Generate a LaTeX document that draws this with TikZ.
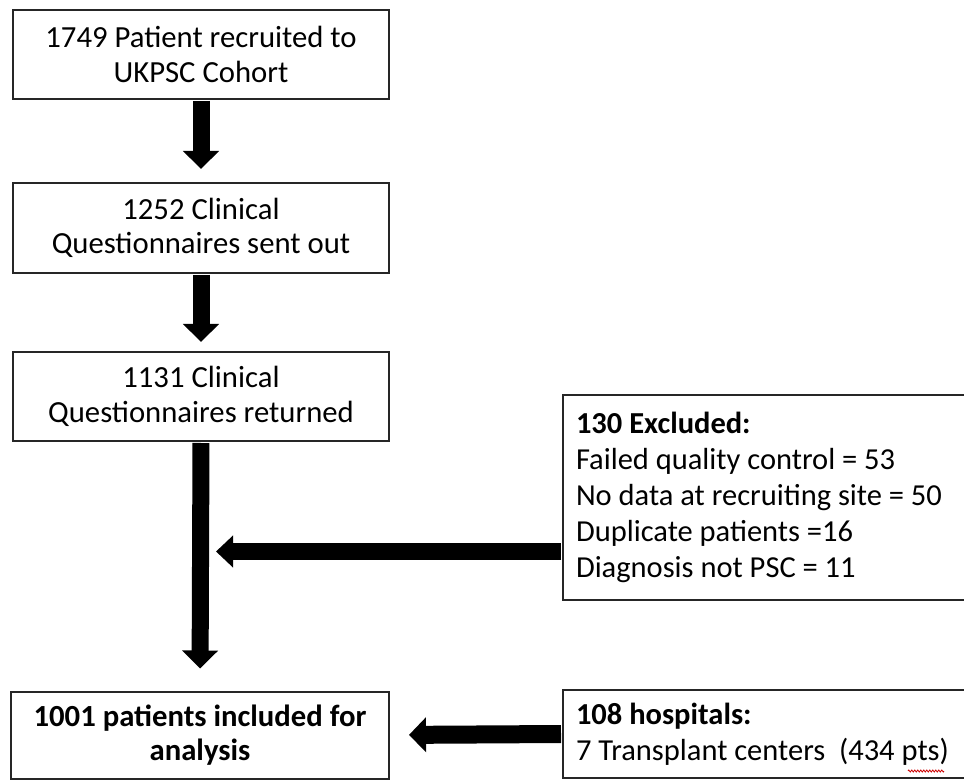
\documentclass[tikz,border=0pt]{standalone}
\usepackage{fontspec}
\setmainfont{Carlito}
\usetikzlibrary{arrows.meta,decorations.pathmorphing}
\begin{document}
\begin{tikzpicture}[x=1pt,y=1pt,
  flowbox/.style={draw=black!85, line width=2pt, fill=white, minimum width=376pt, minimum height=89pt, align=center, inner sep=0pt, font=\fontsize{30.7}{34.5}\selectfont},
  sidebox/.style={draw=black!85, line width=2pt, fill=white, anchor=west, minimum width=440pt, text width=414pt, align=flush left, inner sep=13pt, font=\fontsize{30.5}{36}\selectfont},
  bigarrow/.style={line width=17pt, -{Triangle[width=35pt,length=18pt]}},
  spell/.style={draw=red!80!black, line width=0.8pt, decoration={zigzag, amplitude=1pt, segment length=3pt}, decorate}
]
\useasboundingbox (0,0) rectangle (964,780);
\clip (0,0) rectangle (964,780);
\fill[white] (0,0) rectangle (964,780);

\node[flowbox] (b1) at (201,725.5) {1749 Patient recruited to\\UKPSC Cohort};
\node[flowbox, minimum height=90pt] (b2) at (201,552) {1252 Clinical\\Questionnaires sent out};
\node[flowbox] (b3) at (201,383.5) {1131 Clinical\\Questionnaires returned};
\node[flowbox, minimum width=378pt, minimum height=87pt] (b4) at (200,45) {\textbf{1001 patients included for}\\\textbf{analysis}};

\node[sidebox, minimum height=205pt] (ex) at (562,282.5) {\textbf{130 Excluded:}\\Failed quality control = 53\\No data at recruiting site = 50\\Duplicate patients =16\\Diagnosis not PSC = 11};
\node[sidebox, minimum height=88pt] (hosp) at (562,46) {\textbf{108 hospitals:}\\7 Transplant centers\ \ (434 pts)};

\coordinate (j) at (216,228.5);
\coordinate (wA) at (908,9);
\coordinate (wB) at (944,9);
\draw[spell] (wA) -- (wB);

\draw[bigarrow, shorten <=1pt, shorten >=13pt] (b1.south) -- (b2.north);
\draw[bigarrow, shorten <=1pt, shorten >=9pt] (b2.south) -- (b3.north);
\draw[bigarrow, shorten <=1pt, shorten >=22pt] (b3.south) -- (b4.north);
\draw[bigarrow, line width=17pt, -{Triangle[width=31pt,length=17pt]}, shorten <=1pt] (ex.west |- j) -- (j);
\draw[bigarrow, line width=18pt, -{Triangle[width=34pt,length=17pt]}, shorten <=1pt, shorten >=19pt] (hosp.west) -- (b4.east);
\end{tikzpicture}
\end{document}
